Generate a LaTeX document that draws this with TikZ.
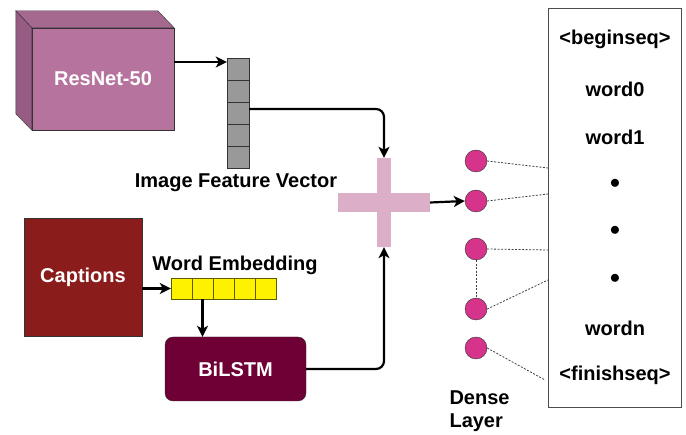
\documentclass[tikz,border=0pt]{standalone}
\usepackage{fontspec}
\setmainfont{Liberation Sans}
\usepackage{tikz}
\usetikzlibrary{arrows.meta,positioning}

\definecolor{cubefront}{HTML}{B5739D}
\definecolor{cubetop}{HTML}{A5688F}
\definecolor{cubeside}{HTML}{965C84}
\definecolor{capred}{HTML}{8B1C1C}
\definecolor{lstmred}{HTML}{6F0035}
\definecolor{plusPink}{HTML}{DCAEC8}
\definecolor{unitPink}{HTML}{D6348A}
\definecolor{embBorder}{HTML}{5C5C00}

\begin{document}
\begin{tikzpicture}[x=1pt,y=-1pt]
		\tikzstyle{every node}=[font=\bfseries\fontsize{20}{23}\selectfont]
		\tikzset{BlockStyle/.style = {draw=black!80,minimum width=#1,text=white,inner sep=0pt},
			GrayCell/.style = {draw=black!80,fill=black!40,minimum size=22pt,inner sep=0pt},
			YellowCell/.style = {draw=embBorder,fill=yellow,minimum size=21pt,inner sep=0pt},
			UnitStyle/.style = {draw=black!80,fill=unitPink,shape=circle,minimum size=22pt,inner sep=0pt},
			FlowArrow/.style = {-{Stealth[length=11pt,width=11pt,inset=3pt]},line width=2.2pt,rounded corners=8pt},
			LinkStyle/.style = {dash pattern=on 2pt off 1.5pt,black!75,line width=0.8pt}}
		\useasboundingbox (0,0) rectangle (686,435);
		% cube for the image encoder
		\node[BlockStyle=142pt,minimum height=102pt,fill=cubefront] (resnet) at (103,79) {ResNet-50};
		\filldraw[draw=black!80,fill=cubetop] (resnet.north west) -- ++(-16,-17) -- ++(142,0) -- (resnet.north east) -- cycle;
		\filldraw[draw=black!80,fill=cubeside] (resnet.north west) -- ++(-16,-17) -- ++(0,103) -- (resnet.south west) -- cycle;
		% image feature vector
		\node[minimum width=22pt,minimum height=110pt,inner sep=0pt] (fvec) at (238,113) {};
		\foreach \i in {0,...,4}
			\node[GrayCell] (f\i) at (238,69+22*\i) {};
		\node (fvlabel) at (236,183) {Image Feature Vector};
		% captions branch
		\node[BlockStyle=118pt,minimum height=118pt,fill=capred] (captions) at (83,277) {Captions};
		\foreach \i in {0,...,4}
			\node[YellowCell] (e\i) at (181.5+21*\i,288.5) {};
		\node (emlabel) at (235,265) {Word Embedding};
		\node[BlockStyle=141pt,minimum height=64pt,fill=lstmred,rounded corners=8pt] (bilstm) at (235.5,369) {BiLSTM};
		% merge
		\node[minimum width=92pt,minimum height=89pt,inner sep=0pt] (plus) at (384,202.5) {};
		\fill[plusPink] ([xshift=-7]plus.north) rectangle ([xshift=7]plus.south);
		\fill[plusPink] ([yshift=-9.5]plus.west) rectangle ([yshift=9.5]plus.east);
		% dense layer units
		\foreach \i/\y in {1/161,2/201,3/249,4/309,5/348}
			\node[UnitStyle] (c\i) at (476,\y) {};
		\node[anchor=west,align=left] (dense) at (446,411) {Dense\\Layer};
		% output words
		\node[draw=black!70,minimum width=133pt,minimum height=399pt,inner sep=0pt] (outbox) at (614.5,207.5) {};
		\node (w0) at (615,39) {<beginseq>};
		\node (w1) at (615,89) {word0};
		\node (w2) at (615,137) {word1};
		\node (w3) at (615,184) {$\bullet$};
		\node (w4) at (615,231) {$\bullet$};
		\node (w5) at (615,279) {$\bullet$};
		\node (w6) at (615,328) {wordn};
		\node (w7) at (615,375) {<finishseq>};
		\coordinate (o1) at (548,168);
		\coordinate (o2) at (548,194);
		\coordinate (o3) at (548,250);
		\coordinate (o4) at (548,280);
		\coordinate (o5) at (545,380);
		% connectors
		\draw[FlowArrow] ([yshift=17]resnet.east) -- ([yshift=17]resnet.east -| fvec.west);
		\draw[FlowArrow] ([yshift=4]fvec.east) -| (plus.north);
		\draw[FlowArrow] (e0.west -| captions.east) -- (e0.west);
		\draw[FlowArrow] (e1.south) -- (e1.south |- bilstm.north);
		\draw[FlowArrow] (bilstm.east) -| (plus.south);
		\draw[FlowArrow] (plus.east) -- (c2.west);
		\foreach \i in {1,...,5}
			\draw[LinkStyle] (c\i.east) -- (o\i);
		\draw[LinkStyle] (c3.south) -- (c4.north);
\end{tikzpicture}
\end{document}
